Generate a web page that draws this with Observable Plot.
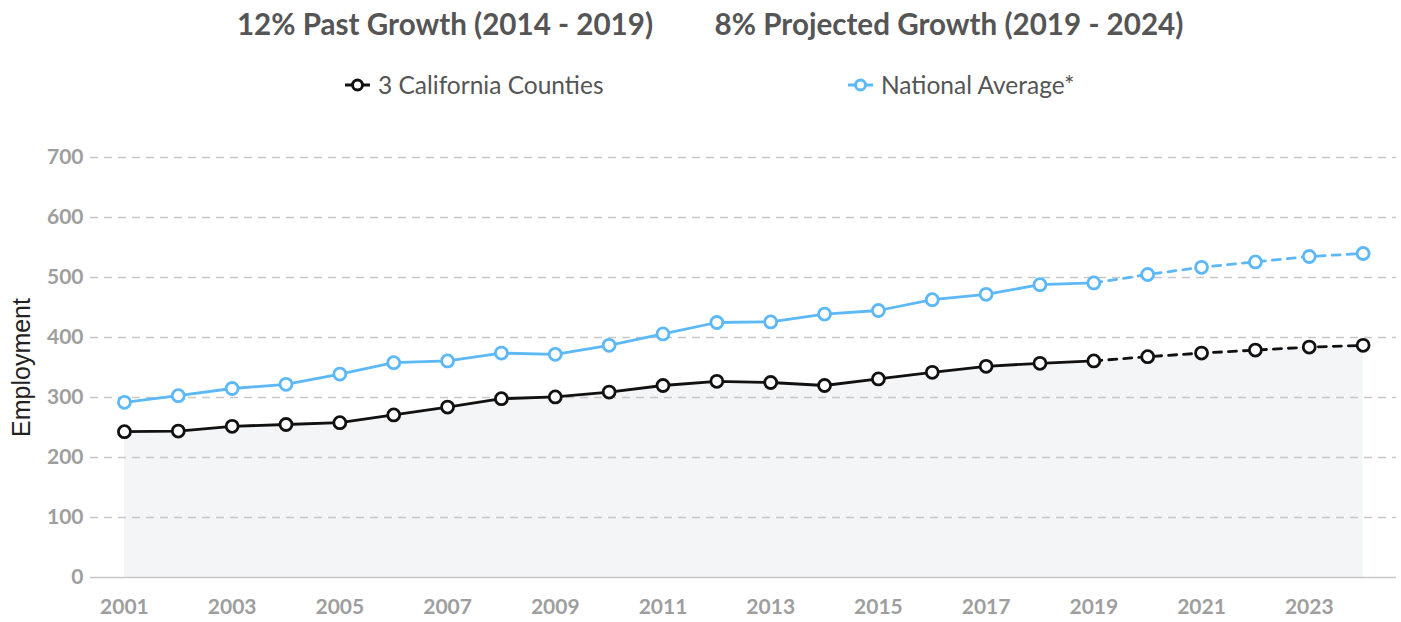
<!DOCTYPE html>
<html><head><meta charset="utf-8">
<script src="https://cdn.jsdelivr.net/npm/d3@7"></script>
<script src="https://cdn.jsdelivr.net/npm/@observablehq/plot@0.6"></script>
<style>
body{margin:0;background:#fff;font-family:Lato,"Noto Sans",sans-serif;}
#wrap{position:relative;width:1401px;height:622px;overflow:hidden;}
.title{position:absolute;top:5px;height:38px;line-height:38px;transform:translateX(-50%);white-space:nowrap;font-size:29.6px;font-weight:bold;color:#555;}
.leg{position:absolute;top:70px;height:30px;line-height:30px;display:flex;align-items:center;font-size:24.5px;color:#555;white-space:nowrap;}
.leg svg{margin-right:8px;}
#chart{position:absolute;left:0;top:120px;}
</style></head>
<body><div id="wrap">
<div class="title" style="left:445px">12% Past Growth (2014 - 2019)</div>
<div class="title" style="left:949px">8% Projected Growth (2019 - 2024)</div>
<div class="leg" style="left:345px"><svg width="25" height="16"><line x1="0" x2="25" y1="8" y2="8" stroke="#111" stroke-width="3"/><circle cx="12.5" cy="8" r="5" fill="#fff" stroke="#111" stroke-width="3"/></svg>3 California Counties</div>
<div class="leg" style="left:848px"><svg width="25" height="16"><line x1="0" x2="25" y1="8" y2="8" stroke="#5cb8f6" stroke-width="3"/><circle cx="12.5" cy="8" r="5" fill="#fff" stroke="#5cb8f6" stroke-width="3"/></svg>National Average*</div>
<div id="chart"></div>
</div>
<script>
const years = [2001,2002,2003,2004,2005,2006,2007,2008,2009,2010,2011,2012,2013,2014,2015,2016,2017,2018,2019,2020,2021,2022,2023,2024];
const county = [243,244,252,255,258,271,284,298,301,309,320,327,325,320,331,342,352,357,361,368,374,379,384,387];
const national = [292,303,315,322,339,358,361,374,372,387,406,425,426,439,445,463,472,488,491,505,517,526,535,540];
const xTicks = [2001,2003,2005,2007,2009,2011,2013,2015,2017,2019,2021,2023];
const yTicks = [0,100,200,300,400,500,600,700];
const lastActual = 2019;

const BLACK = "#111", BLUE = "#5cb8f6";
const rows = years.map((y,i)=>({year:y, county:county[i], national:national[i]}));
const past = rows.filter(d=>d.year<=lastActual);
const proj = rows.filter(d=>d.year>=lastActual);

const chart = Plot.plot({
  width:1401, height:502,
  marginTop:37, marginBottom:45, marginLeft:90, marginRight:5,
  style:{fontFamily:"Lato, sans-serif", fontSize:"21px", fontWeight:"bold", color:"#9e9e9e", background:"transparent", overflow:"visible"},
  x:{domain:[2000.37,2024.62], label:null},
  y:{domain:[0,700], label:null},
  marks:[
    Plot.areaY(rows,{x:"year", y:"county", fill:"#f4f5f7"}),
    Plot.gridY(yTicks.filter(v=>v>0),{stroke:"#c8c8c8", strokeOpacity:1, strokeWidth:1.3, strokeDasharray:"8,6"}),
    Plot.ruleY([0],{stroke:"#c8c8c8", strokeWidth:1.6}),
    Plot.axisX({ticks:xTicks, tickFormat:d=>String(d), tickSize:0, tickPadding:22, fill:"#9e9e9e"}),
    Plot.axisY({ticks:yTicks, tickSize:0, tickPadding:7, fill:"#9e9e9e"}),
    Plot.text(["Employment"],{frameAnchor:"left", dx:-69, rotate:-90, textAnchor:"middle", fontFamily:"Liberation Sans, Arial, sans-serif", fontSize:25, fontWeight:"normal", fill:"#222"}),
    Plot.line(past,{x:"year", y:"national", stroke:BLUE, strokeWidth:2.8}),
    Plot.line(proj,{x:"year", y:"national", stroke:BLUE, strokeWidth:2.8, strokeDasharray:"8,7"}),
    Plot.line(past,{x:"year", y:"county", stroke:BLACK, strokeWidth:2.8}),
    Plot.line(proj,{x:"year", y:"county", stroke:BLACK, strokeWidth:2.8, strokeDasharray:"8,7"}),
    Plot.dot(rows,{x:"year", y:"national", r:6, fill:"#fff", stroke:BLUE, strokeWidth:2.8}),
    Plot.dot(rows,{x:"year", y:"county", r:6, fill:"#fff", stroke:BLACK, strokeWidth:2.8})
  ]
});
document.getElementById("chart").appendChild(chart);
</script>
</body></html>
